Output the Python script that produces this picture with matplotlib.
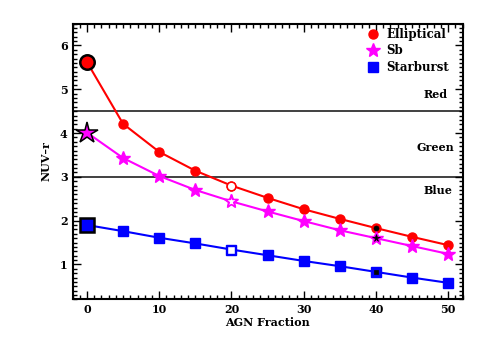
import matplotlib
matplotlib.use('Agg')
import matplotlib.pyplot as plt
from matplotlib.lines import Line2D
from matplotlib.ticker import MultipleLocator

agn = [0, 5, 10, 15, 20, 25, 30, 35, 40, 45, 50]
elliptical = [5.62, 4.21, 3.57, 3.14, 2.80, 2.52, 2.26, 2.04, 1.83, 1.63, 1.44]
sb = [4.01, 3.43, 3.02, 2.70, 2.44, 2.21, 1.99, 1.78, 1.60, 1.42, 1.24]
starburst = [1.90, 1.76, 1.61, 1.48, 1.34, 1.21, 1.08, 0.96, 0.83, 0.70, 0.58]

names = ['Elliptical', 'Sb', 'Starburst']
colors = ['red', 'magenta', 'blue']
markers = ['o', '*', 's']
sizes = [6.5, 10, 6.5]
edge_w = [1.8, 1.1, 1.8]

bounds = [4.5, 3.0]
regions = ['Red', 'Green', 'Blue']
region_pos = [(46.6, 4.89), (45.6, 3.68), (46.6, 2.68)]

plt.rcParams['font.family'] = 'DejaVu Serif'
plt.rcParams['font.weight'] = 'bold'

fig = plt.figure(figsize=(4.85, 3.46), dpi=100)
ax = fig.add_axes([0.1495, 0.1344, 0.8045, 0.7976])

for y in bounds:
    ax.axhline(y, color='#404040', lw=1.4, zorder=1)

series = [elliptical, sb, starburst]
for vals, c, m, s, ew in zip(series, colors, markers, sizes, edge_w):
    ax.plot(agn, vals, color=c, lw=1.5, marker=m, ms=s, mec=c, mfc=c, zorder=3)
    # big marker at 0 per cent
    ax.plot(agn[0], vals[0], ls='none', marker=m, ms=s * 1.6, mfc=c, mec='black', mew=ew, zorder=4)
    # open marker at 20 per cent
    i = agn.index(20)
    ax.plot(agn[i], vals[i], ls='none', marker=m, ms=s * 0.95, mfc='white', mec=c, mew=1.0, zorder=4)
    # black dot inside at 40 per cent
    j = agn.index(40)
    ax.plot(agn[j], vals[j], ls='none', marker=m, ms=s * 0.55, mfc='black', mec='black', mew=0.5, zorder=5)

for txt, (x, y) in zip(regions, region_pos):
    ax.text(x, y, txt, fontsize=8, fontweight='bold', ha='left', va='center')

handles = [Line2D([], [], ls='none', marker=m, ms=s, color=c) for c, m, s in zip(colors, markers, sizes)]
ax.legend(handles, names, loc='upper right', bbox_to_anchor=(0.965, 0.985), frameon=False,
          fontsize=8.5, handlelength=1.0, handletextpad=0.6, labelspacing=0.3,
          borderaxespad=0.0, borderpad=0.0)

ax.set_xlim(-2, 52)
ax.set_ylim(0.2, 6.5)
ax.xaxis.set_major_locator(MultipleLocator(10))
ax.xaxis.set_minor_locator(MultipleLocator(1))
ax.yaxis.set_major_locator(MultipleLocator(1))
ax.yaxis.set_minor_locator(MultipleLocator(0.1))
ax.tick_params(which='both', direction='in', top=True, right=True, labelsize=8, width=1)
ax.tick_params(which='major', length=6)
ax.tick_params(which='minor', length=3)
ax.set_yticks([1, 2, 3, 4, 5, 6])
for sp in ax.spines.values():
    sp.set_linewidth(1.5)

ax.set_xlabel('AGN Fraction', fontsize=8, fontweight='bold', labelpad=1)
ax.set_ylabel('NUV\u2013r', fontsize=8, fontweight='bold', labelpad=6)

fig.savefig('out.png', dpi=100)
